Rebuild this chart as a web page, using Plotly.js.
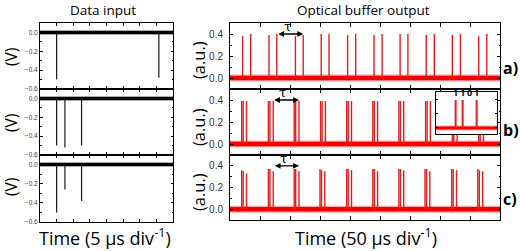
<!DOCTYPE html>
<html><head><meta charset="utf-8">
<script src="https://cdn.plot.ly/plotly-3.0.1.min.js"></script>
<style>html,body{margin:0;padding:0;background:#fff}#c{width:520px;height:251px}</style>
</head><body><div id="c"></div>
<script>
// ---- data (divisions of the time axis, volts / a.u.) ----
const inTimes1 = [1.0, 7.15];
const inDepth1 = [-0.50, -0.48];
const inTimes2 = [1.0, 1.5, 2.5];
const inDepth2 = [-0.50, -0.52, -0.50];
const inTimes3 = [1.0, 1.5, 2.5];
const inDepth3 = [-0.50, -0.26, -0.38];

const outTimesA = [0.42,0.69, 1.30,1.56, 2.18,2.44, 3.04,3.30, 3.92,4.19, 4.80,5.07, 5.67,5.93, 6.54,6.81, 7.41,7.68, 8.29,8.56];
const outHeightA = [0.38,0.40, 0.39,0.40, 0.38,0.39, 0.40,0.40, 0.39,0.40, 0.39,0.40, 0.40,0.40, 0.39,0.40, 0.39,0.40, 0.38,0.40];

const outTimesB = [0.39,0.44,0.55, 1.28,1.33,1.44, 2.14,2.19,2.30, 3.02,3.07,3.18, 3.89,3.94,4.05, 4.76,4.81,4.92, 5.63,5.68,5.79, 6.52,6.57,6.68, 7.41,7.46,7.57, 8.29,8.34,8.45];
const outHeightB = [0.39,0.39,0.39, 0.39,0.39,0.39, 0.39,0.39,0.39, 0.39,0.39,0.39, 0.39,0.39,0.39, 0.39,0.39,0.39, 0.39,0.39,0.39, 0.39,0.39,0.39, 0.39,0.39,0.39, 0.39,0.39,0.39];

const outTimesC = [0.39,0.44,0.55, 1.28,1.33,1.44, 2.14,2.19,2.30, 3.00,3.05,3.16, 3.89,3.94,4.05, 4.76,4.81,4.92, 5.63,5.68,5.79, 6.50,6.55,6.66, 7.39,7.44,7.55, 8.26,8.31,8.42];
const outHeightC = [0.36,0.35,0.33, 0.37,0.37,0.35, 0.37,0.37,0.35, 0.37,0.36,0.35, 0.37,0.37,0.36, 0.37,0.37,0.35, 0.37,0.37,0.36, 0.37,0.37,0.35, 0.37,0.37,0.36, 0.37,0.36,0.35];

const insetBits = [0, 1, 3];
const insetHeights = [0.40, 0.40, 0.40];
const insetLabelPos = [0, 1, 2, 3];
const insetLabels = ["1", "1", "0", "1"];
const insetRangeX = [-2.8, 5.9];
const insetRangeY = [-0.086, 0.514];

const tauA = [1.56, 2.44];
const tauB = [1.42, 2.30];
const tauC = [1.44, 2.30];
const tauLevel = 0.40;

const leftTicks = [-0.6, -0.4, -0.2, 0.0];
const rightTicks = [0.0, 0.2, 0.4];
const panelLabels = ["a)", "b)", "c)"];

// ---- helpers ----
const W = 520, H = 251;
const px = x => x / W, py = y => 1 - y / H;
function pulses(times, h) {
  const xs = [], ys = [];
  times.forEach((t, i) => { xs.push(t, t, null); ys.push(0, h[i], null); });
  return {xs, ys};
}
const traces = [];
function addPanel(n, times, h, range, col, baseW, fuzzW, pulseW) {
  const xa = n === 1 ? 'x' : 'x' + n, ya = n === 1 ? 'y' : 'y' + n;
  traces.push({x: range, y: [0, 0], xaxis: xa, yaxis: ya, mode: 'lines',
    line: {color: col.fuzz, width: fuzzW}, hoverinfo: 'skip', showlegend: false});
  traces.push({x: range, y: [0, 0], xaxis: xa, yaxis: ya, mode: 'lines',
    line: {color: col.base, width: baseW}, hoverinfo: 'skip', showlegend: false});
  const p = pulses(times, h);
  traces.push({x: p.xs, y: p.ys, xaxis: xa, yaxis: ya, mode: 'lines',
    line: {color: col.pulse, width: pulseW}, hoverinfo: 'skip', showlegend: false, connectgaps: false});
}
const blk = {fuzz: 'rgba(0,0,0,0.45)', base: '#000', pulse: '#1a1a1a'};
const red = {fuzz: 'rgba(240,0,0,0.35)', base: 'rgb(240,0,0)', pulse: 'rgb(228,30,30)'};
addPanel(1, inTimes1, inDepth1, [0, 8], blk, 3, 4.5, 1.2);
addPanel(2, inTimes2, inDepth2, [0, 8], blk, 3, 4.5, 1.2);
addPanel(3, inTimes3, inDepth3, [0, 8], blk, 3, 4.5, 1.2);
addPanel(4, outTimesA, outHeightA, [0, 9], red, 4.5, 7, 1.4);
addPanel(5, outTimesB, outHeightB, [0, 9], red, 4.5, 7, 1.4);
addPanel(6, outTimesC, outHeightC, [0, 9], red, 4.5, 7, 1.4);
addPanel(7, insetBits, insetHeights, insetRangeX, red, 3, 5, 2);

function axis(extra) {
  return Object.assign({showline: true, linecolor: '#000', linewidth: 1, mirror: 'allticks',
    ticks: 'inside', ticklen: 3, tickwidth: 1, tickcolor: '#000', showgrid: false,
    zeroline: false, fixedrange: true}, extra);
}
const rowsL = [[23, 89], [89, 155], [155, 222]];
const rowsR = [[23, 89], [89, 155], [155, 220]];
const layout = {width: W, height: H, margin: {l: 0, r: 0, t: 0, b: 0},
  paper_bgcolor: '#fff', plot_bgcolor: 'rgba(0,0,0,0)', showlegend: false,
  font: {family: 'Open Sans', color: '#000'}, annotations: [], shapes: []};
for (let i = 0; i < 3; i++) {
  const n = i + 1, s = n === 1 ? '' : String(n);
  layout['xaxis' + s] = axis({domain: [px(40), px(173)], anchor: 'y' + s, range: [0, 8],
    tick0: 0, dtick: 1, showticklabels: false});
  layout['yaxis' + s] = axis({domain: [py(rowsL[i][1]), py(rowsL[i][0])], anchor: 'x' + s,
    range: [-0.6, 0.1], tickvals: leftTicks, tickformat: '.1f', ticklen: 2.5,
    tickfont: {family: 'Liberation Sans', size: 6.5, color: '#444'},
    minor: {dtick: 0.1, tick0: 0, ticklen: 1.5, ticks: 'inside', tickcolor: '#000'}});
  const m = i + 4;
  layout['xaxis' + m] = axis({domain: [px(230), px(500)], anchor: 'y' + m, range: [0, 9],
    tick0: 0, dtick: 1, ticklen: 4, showticklabels: false});
  layout['yaxis' + m] = axis({domain: [py(rowsR[i][1]), py(rowsR[i][0])], anchor: 'x' + m,
    range: [-0.1, 0.5], tickvals: rightTicks, tickformat: '.1f', ticklabelstandoff: 4,
    tickfont: {family: 'Liberation Sans', size: 10, color: '#333'},
    minor: {dtick: 0.1, tick0: 0, ticklen: 1.5, ticks: 'inside', tickcolor: '#000'}});
}
layout.xaxis7 = axis({domain: [px(436), px(497)], anchor: 'y7', range: insetRangeX,
  ticks: '', showticklabels: false});
layout.yaxis7 = axis({domain: [py(134), py(92)], anchor: 'x7', range: insetRangeY,
  dtick: 0.2, tick0: 0, ticklen: 2, showticklabels: false});
// white background of the inset, drawn in the inset's own layer below its trace
layout.shapes.push({type: 'rect', xref: 'x7', yref: 'y7', layer: 'below',
  x0: insetRangeX[0], x1: insetRangeX[1], y0: insetRangeY[0], y1: insetRangeY[1],
  fillcolor: '#fff', line: {width: 0}});

const A = layout.annotations;
function txt(x, y, text, size, extra) {
  A.push(Object.assign({xref: 'paper', yref: 'paper', x: px(x), y: py(y), text: text,
    showarrow: false, xanchor: 'center', yanchor: 'middle', borderpad: 0,
    font: {family: 'Open Sans', size: size, color: '#000'}}, extra || {}));
}
txt(103, 10, 'Data input', 13.5);
txt(363, 10, 'Optical buffer output', 13.5);
txt(105, 237, 'Time (5 μs div<sup>-1</sup>)', 18);
txt(366, 237, 'Time (50 μs div<sup>-1</sup>)', 18);
[57, 123, 187].forEach(y => txt(11, y, '(V)', 15.5, {textangle: -90}));
[60, 127, 192].forEach(y => txt(198, y, '(a.u.)', 16.5, {textangle: -90}));
[68, 130, 199].forEach((y, i) => txt(502, y, panelLabels[i], 16,
  {xanchor: 'left', font: {family: 'Open Sans', size: 16, color: '#000', weight: 'bold'}}));

[[tauA, 'x4', 'y4'], [tauB, 'x5', 'y5'], [tauC, 'x6', 'y6']].forEach(([t, xr, yr]) => {
  A.push({xref: xr, yref: yr, axref: xr, ayref: yr, x: t[1], y: tauLevel, ax: t[0], ay: tauLevel,
    text: '', showarrow: true, arrowside: 'end+start', arrowhead: 2, arrowsize: 0.9,
    arrowwidth: 1.3, arrowcolor: '#000', standoff: 0, startstandoff: 0});
  A.push({xref: xr, yref: yr, x: (t[0] + t[1]) / 2 - 0.1, y: tauLevel, text: 'τ', showarrow: false,
    yanchor: 'bottom', yshift: -2, font: {family: 'DejaVu Serif', size: 13, color: '#000'}});
});
insetLabelPos.forEach((b, i) => A.push({xref: 'x7', yref: 'y7', x: b, y: 0.41, text: insetLabels[i],
  showarrow: false, yanchor: 'bottom', yshift: -2,
  font: {family: 'Open Sans', size: 9, color: '#000', weight: 'bold'}}));

Plotly.newPlot('c', traces, layout, {staticPlot: true, displayModeBar: false});
</script></body></html>
